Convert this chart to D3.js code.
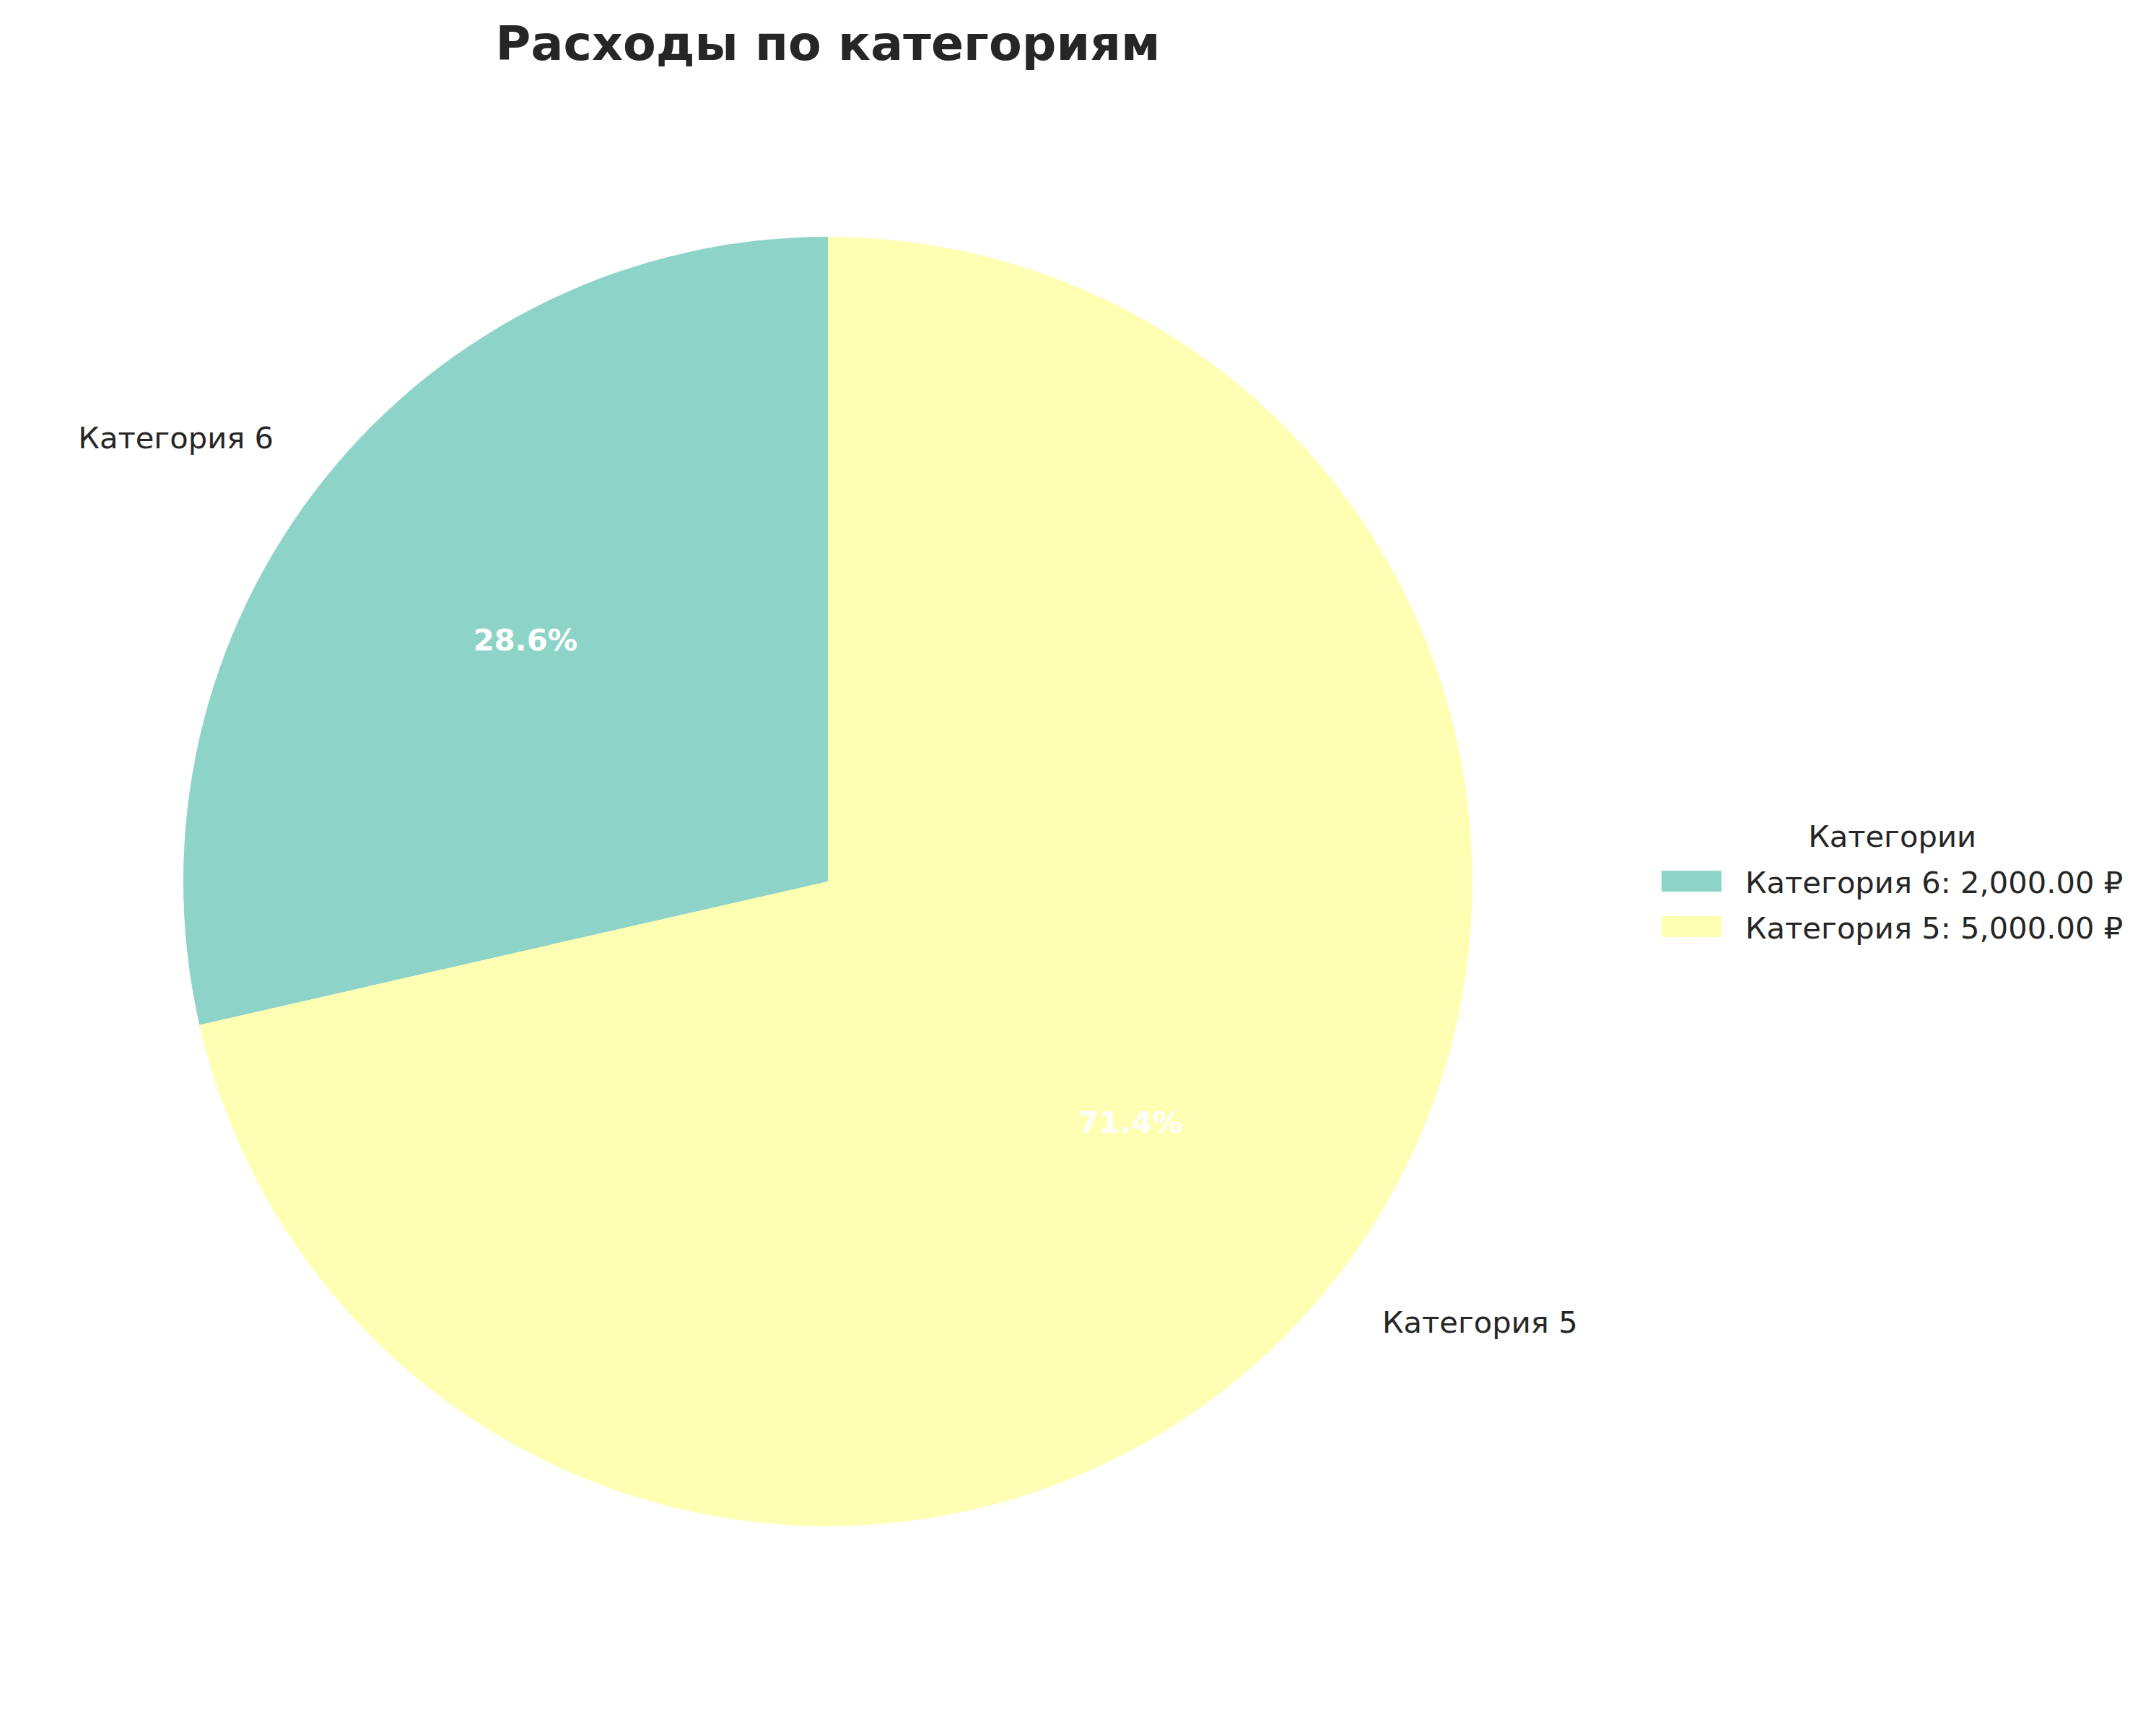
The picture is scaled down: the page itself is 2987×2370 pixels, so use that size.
<!DOCTYPE html>
<html>
<head>
<meta charset="utf-8">
<script src="https://cdn.jsdelivr.net/npm/d3@7"></script>
<style>
  html, body { margin: 0; padding: 0; background: #ffffff; }
  svg { display: block; }
</style>
</head>
<body>
<script>
// ---- data ----
const categories = ["Категория 6", "Категория 5"];
const amounts = [2000, 5000];
const colors = ["#8dd3c7", "#ffffb3"];
const chartTitle = "Расходы по категориям";
const legendTitle = "Категории";

// ---- layout ----
const W = 2987, H = 2370;
const cx = 1147, cy = 1221, R = 893;
const fontFamily = "'DejaVu Sans', sans-serif";
const textColor = "#262626";
const fs = 41.67;

const svg = d3.select("body").append("svg")
  .attr("width", W).attr("height", H);

const data = categories.map((c, i) => ({ name: c, value: amounts[i], color: colors[i] }));
const total = d3.sum(amounts);

const pie = d3.pie().value(d => d.value).sort(null)
  .startAngle(0).endAngle(-2 * Math.PI);
const arcs = pie(data);

const arc = d3.arc().innerRadius(0).outerRadius(R);
const pctArc = d3.arc().innerRadius(R * 0.6).outerRadius(R * 0.6);
const lblArc = d3.arc().innerRadius(R * 1.1).outerRadius(R * 1.1);

const g = svg.append("g").attr("transform", `translate(${cx},${cy})`);

g.selectAll("path.slice").data(arcs).join("path")
  .attr("class", "slice")
  .attr("d", arc)
  .attr("fill", d => d.data.color);

// category labels
g.selectAll("text.lbl").data(arcs).join("text")
  .attr("class", "lbl")
  .attr("x", d => lblArc.centroid(d)[0])
  .attr("y", d => lblArc.centroid(d)[1])
  .attr("dy", "0.3em")
  .attr("text-anchor", d => lblArc.centroid(d)[0] < 0 ? "end" : "start")
  .attr("font-family", fontFamily)
  .attr("font-size", fs)
  .attr("fill", textColor)
  .text(d => d.data.name);

// percent labels
g.selectAll("text.pct").data(arcs).join("text")
  .attr("class", "pct")
  .attr("x", d => pctArc.centroid(d)[0])
  .attr("y", d => pctArc.centroid(d)[1])
  .attr("dy", "0.33em")
  .attr("text-anchor", "middle")
  .attr("font-family", fontFamily)
  .attr("font-size", fs)
  .attr("font-weight", "bold")
  .attr("fill", "#ffffff")
  .text(d => (d.data.value / total * 100).toFixed(1) + "%");

// title
svg.append("text")
  .attr("x", cx).attr("y", 83)
  .attr("text-anchor", "middle")
  .attr("font-family", fontFamily)
  .attr("font-size", 66.67)
  .attr("font-weight", "bold")
  .attr("fill", textColor)
  .text(chartTitle);

// legend
const fmt = d3.format(",.2f");
const legX = 2302, handleW = 83, handleH = 29, textPad = 33;
const row0 = 1237, rowStep = 63;
const leg = svg.append("g");
const items = leg.selectAll("g.item").data(data).join("g").attr("class", "item");
items.append("rect")
  .attr("x", legX)
  .attr("y", (d, i) => row0 + i * rowStep - handleH - 2)
  .attr("width", handleW).attr("height", handleH)
  .attr("fill", d => d.color);
const itemTexts = items.append("text")
  .attr("x", legX + handleW + textPad)
  .attr("y", (d, i) => row0 + i * rowStep)
  .attr("font-family", fontFamily)
  .attr("font-size", fs)
  .attr("fill", textColor)
  .text(d => `${d.name}: ${fmt(d.value)} ₽`);
let maxW = 0;
itemTexts.each(function() { maxW = Math.max(maxW, this.getComputedTextLength()); });
const legRight = legX + handleW + textPad + maxW;
leg.append("text")
  .attr("x", (legX + legRight) / 2)
  .attr("y", 1173)
  .attr("text-anchor", "middle")
  .attr("font-family", fontFamily)
  .attr("font-size", fs)
  .attr("fill", textColor)
  .text(legendTitle);
</script>
</body>
</html>
